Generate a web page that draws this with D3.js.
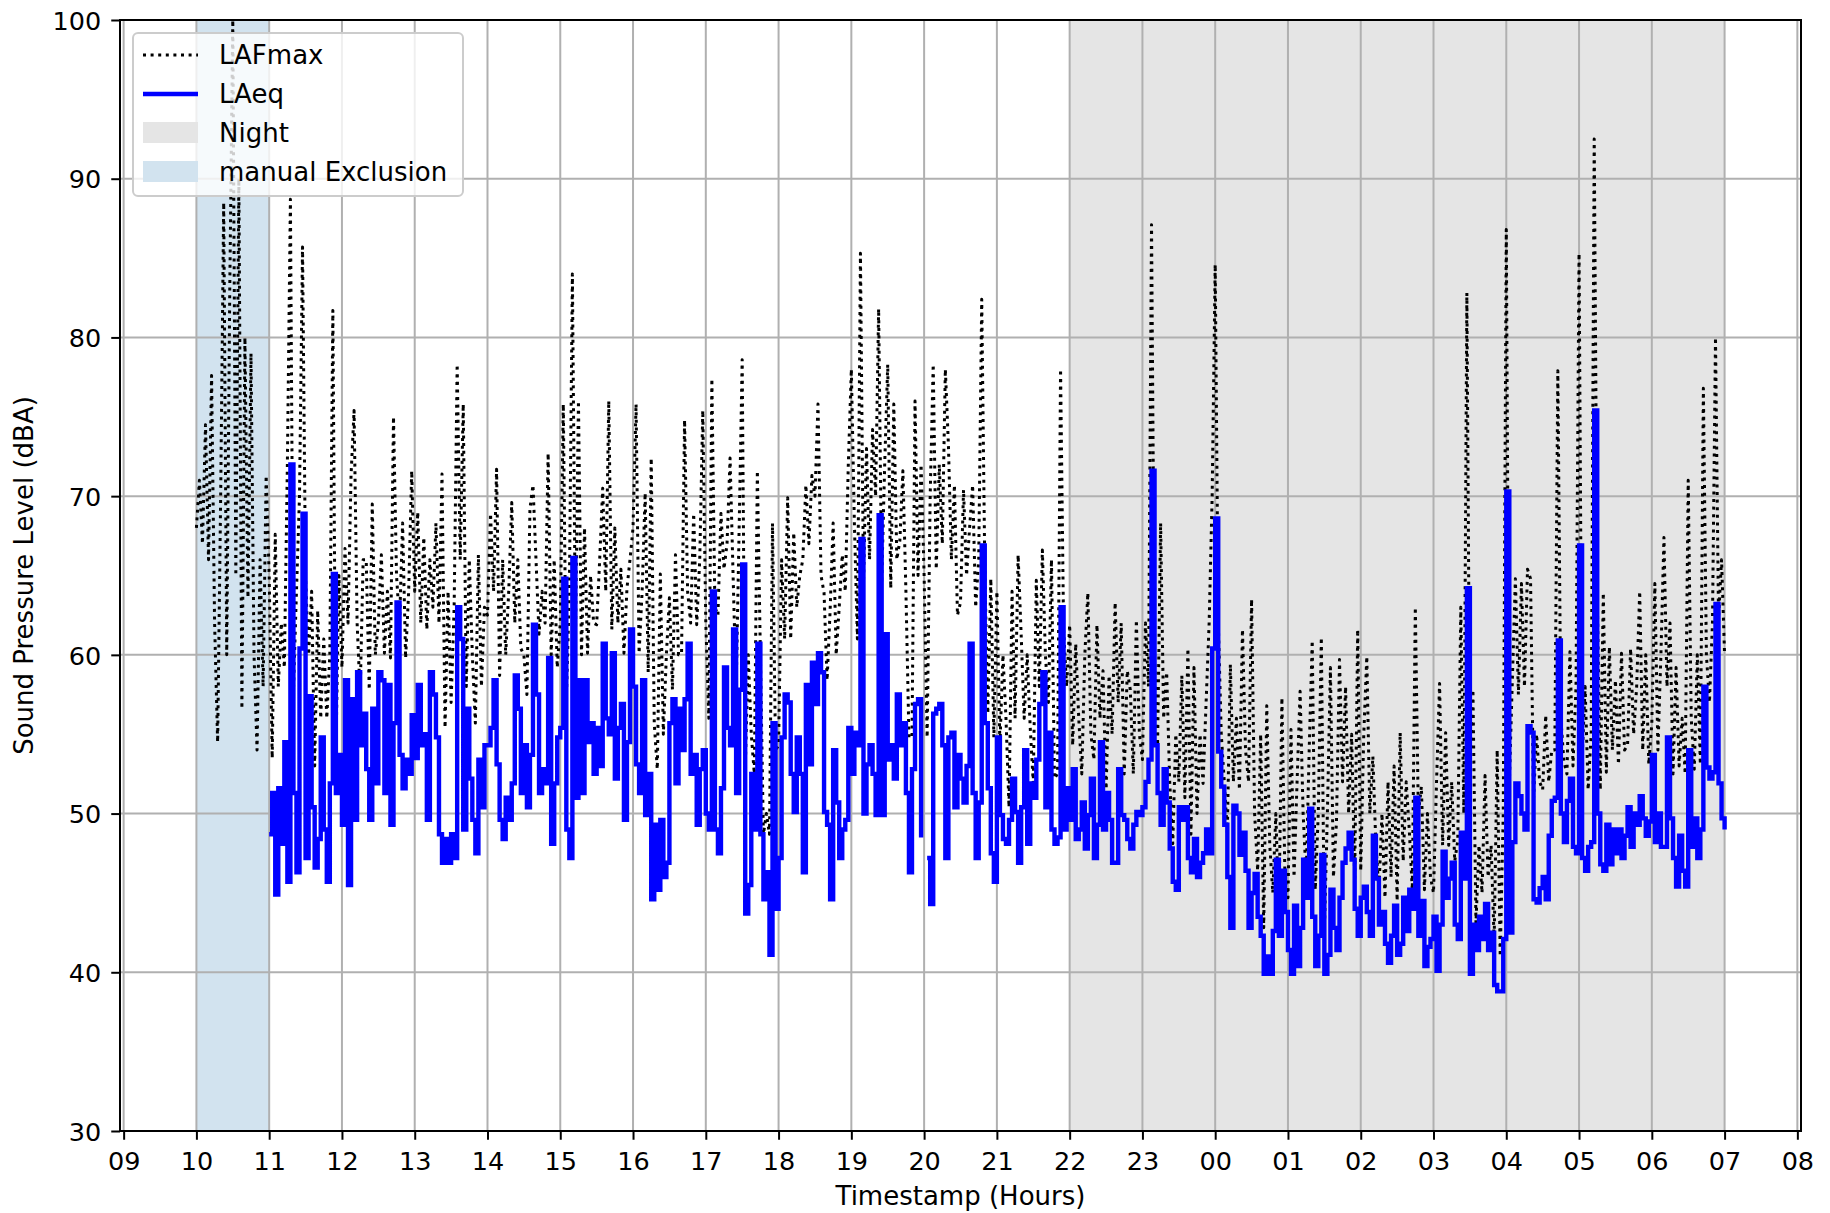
<!DOCTYPE html>
<html>
<head>
<meta charset="utf-8">
<script src="https://cdn.jsdelivr.net/npm/d3@7"></script>
<style>
  html, body { margin: 0; padding: 0; background: #ffffff; }
  text { font-family: "DejaVu Sans", sans-serif; fill: #000; }
</style>
</head>
<body>
<svg id="chart" width="1830" height="1213"></svg>
<script>
// ---------------- DATA ----------------
const xDomain = ["2024-01-01 08:57", "2024-01-02 08:03"];
const yTicks = [30, 40, 50, 60, 70, 80, 90, 100];
const nightSpan = ["2024-01-01 22:00", "2024-01-02 07:00"];
const exclusionSpan = ["2024-01-01 10:00", "2024-01-01 11:00"];
const stepMinutes = 2.5;
const lafmaxStart = "2024-01-01 10:00";
const laeqStart = "2024-01-01 11:00";
const legendLabels = ["LAFmax", "LAeq", "Night", "manual Exclusion"];

// LAFmax (dBA), one row per hour, 2.5-minute samples
const lafmax = [
  68, 71, 67, 74.5, 66, 77.6, 62, 54.5, 70, 88.5, 60, 83, 100, 65, 90, 56.6, 80, 63.6, 79, 60, 54, 66, 58, 71.3,
  65, 53.5, 67.6, 58, 62, 59.2, 72, 88.7, 57.8, 64, 70, 85.7, 64.8, 60, 64, 53, 62.8, 56, 61, 56, 60, 81.7, 53.7, 65,
  59.2, 66.7, 62, 71.3, 75.4, 62, 57.5, 66, 66, 57.8, 69.5, 60, 62, 66.3, 60.1, 64, 59.8, 75, 65, 62, 68.3, 59.8, 64, 71.6,
  64, 69, 62, 67.4, 61.6, 66, 63, 68.3, 62, 71.4, 55.4, 64, 57, 63, 78.3, 66, 75.8, 58, 66, 60, 55.7, 66.3, 58, 63,
  62.5, 68.9, 64, 71.7, 58.7, 66, 60, 64, 69.6, 62, 66, 60.4, 60, 57.5, 69.2, 70.7, 66, 61.3, 64, 62, 72.7, 60, 66, 59.2,
  62, 75.8, 57.2, 64, 84, 61, 76, 60, 68, 60.1, 65, 62, 61.9, 66, 70.5, 64, 76, 61.6, 68, 62, 65.4, 60.1, 64.2, 66,
  68, 75.8, 60.1, 64, 70.2, 58.9, 72.4, 55.7, 52.8, 65.1, 55, 60, 63.6, 57.8, 66.3, 60, 60.1, 74.8, 64, 62, 68.9, 61.9, 66, 75.4,
  62, 56, 77.4, 63, 62.5, 68.9, 65.4, 67, 72.4, 65, 57.8, 68, 78.6, 52.8, 60, 55, 52.5, 71.6, 60, 48.7, 50, 48.7, 68.3, 54,
  54.3, 66, 61, 69.9, 61, 67.7, 63, 65, 66, 70.7, 67, 71.3, 70, 75.8, 65, 63.9, 58.4, 62.8, 68.3, 60, 63, 66.3, 64, 72,
  78, 68.3, 61, 85.3, 64.5, 73, 66, 74.2, 70, 81.8, 64.5, 72, 78.3, 64.2, 75.8, 66, 67.2, 71.6, 64, 54.8, 54.8, 76, 65, 72,
  65, 54.8, 70, 78.3, 65.4, 72, 67, 78, 73.3, 66, 70.7, 62.5, 63.3, 70.4, 65, 68, 70.7, 63, 66, 82.4, 65.7, 56.3, 64.8, 54.8,
  64, 54.3, 60, 56, 50.4, 64, 56, 66.3, 61.3, 56, 60, 55.4, 51.9, 64.7, 58, 66.6, 60, 57, 66, 52.2, 52.5, 78, 61.6, 58,
  61.9, 54.3, 60.7, 56, 52.5, 60, 63.9, 55, 53.4, 61.9, 56, 59, 51.3, 58.7, 55, 63.3, 57, 62, 52.5, 59, 57.8, 52.5, 62.2, 55,
  53.4, 62, 58, 87.1, 60, 54.3, 68.3, 56, 58.9, 52, 48.1, 55, 52, 58.7, 51, 60.4, 48.7, 59.2, 50, 55, 51.9, 57, 62, 70,
  84.6, 62.1, 55, 52, 48.8, 59.4, 52, 56, 51.5, 61.6, 54, 52, 63.5, 50, 46.4, 55, 42.8, 56.8, 48, 45, 50, 43.5, 57.3, 46,
  44.7, 55.3, 46, 52, 57.7, 50, 46, 54, 60.9, 45.2, 50, 61.1, 42.6, 50, 59.2, 46, 49.5, 59.7, 52, 58, 50, 55, 45.9, 61.6,
  46.4, 55, 59.9, 50, 53.6, 48, 45.2, 50, 44.7, 52, 46, 53, 44.5, 55.1, 47, 52, 49, 45.2, 63, 50, 51.7, 45.2, 50, 46,
  45, 52, 58.2, 48, 55.1, 48, 52, 47, 48.3, 63, 50, 82.8, 52.9, 57.8, 43.1, 48, 45, 52.4, 46, 48, 42, 54, 41, 50,
  86.8, 51.9, 58.4, 64.8, 57.5, 64.5, 58, 65.4, 64.8, 51, 55, 52, 51.5, 56.2, 52, 54, 54, 77.9, 56, 53.3, 52.5, 60.2, 53, 58,
  85.3, 53.4, 58, 51.5, 55, 92.5, 63.8, 51.5, 63.9, 52.6, 60.5, 54, 58.4, 53.1, 60.1, 54, 54.3, 60.4, 55, 58, 64, 54, 60, 53.1,
  55.7, 64.5, 54, 60, 67.4, 58, 62, 52.5, 59.2, 53, 56, 52.5, 71, 56, 52.8, 60, 53.1, 76.8, 60, 57, 62, 80, 62.3, 66,
  60
];

// LAeq (dBA), one row per hour, 2.5-minute samples (null = missing)
const laeq = [
  48.7, 51.3, 44.9, 51.6, 48.1, 54.5, 45.7, 72.0, 51.3, 46.3, 60.4, 68.9, 47.2, 57.4, 50.4, 46.6, 48.4, 54.8, 49.0, 45.7, 51.9, 65.1, 51.3, 53.7,
  49.3, 58.4, 45.5, 57.2, 49.6, 58.9, 54.3, 56.3, 52.8, 49.6, 56.6, 51.9, 58.9, 58.4, 51.3, 58.1, 49.3, 55.7, 63.3, 53.7, 51.6, 53.4, 52.5, 56.2,
  53.5, 58.1, 54.3, 55.0, 49.6, 58.9, 57.5, 54.8, 48.7, 46.9, 48.4, 46.9, 48.7, 47.2, 63.0, 61.0, 49.0, 56.6, 52.2, 49.6, 47.5, 53.4, 50.4, 54.3,
  54.3, 55.4, 58.4, 53.1, 49.6, 48.4, 51.0, 49.6, 51.9, 58.7, 56.6, 51.3, 54.3, 50.4, 53.7, 61.9, 57.5, 51.3, 52.8, 51.9, 59.8, 48.1, 51.9, 54.8,
  55.4, 64.8, 49.0, 47.2, 66.1, 51.0, 58.4, 51.3, 58.4, 54.5, 55.7, 52.5, 55.4, 53.0, 60.7, 56.0, 55.0, 60.1, 52.2, 55.4, 56.9, 49.6, 54.5, 61.6,
  58.0, 53.1, 51.3, 58.4, 49.9, 52.5, 44.6, 49.3, 45.2, 49.6, 46.0, 46.9, 55.7, 57.2, 51.9, 56.6, 54.0, 57.2, 60.7, 52.5, 53.7, 49.3, 52.8, 54.0,
  50.0, 49.0, 64.0, 49.0, 47.5, 51.6, 59.2, 55.4, 54.3, 61.6, 51.3, 57.8, 65.7, 43.7, 45.5, 52.5, 49.0, 60.7, 48.7, 44.6, 46.3, 41.1, 55.7, 44.0,
  47.2, 54.8, 57.5, 57.0, 52.5, 50.1, 54.8, 52.5, 46.3, 58.1, 53.1, 59.5, 56.9, 60.1, 58.9, 50.1, 49.3, 44.6, 54.0, 50.7, 47.2, 49.0, 49.6, 55.4,
  52.5, 55.1, 54.3, 67.3, 50.0, 53.1, 54.3, 52.5, 49.9, 68.8, 49.9, 61.3, 53.4, 54.3, 52.2, 57.5, 54.3, 55.7, 51.3, 46.3, 52.8, 56.9, 57.2, 48.5,
  null, 47.2, 44.3, 56.3, 56.6, 56.9, 54.3, 47.2, 54.8, 55.1, 50.4, 53.7, 52.2, 50.7, 53.0, 60.7, 51.3, 47.2, 50.7, 66.9, 55.7, 51.6, 47.5, 45.7,
  54.8, 49.9, 48.4, 48.1, 49.6, 52.2, 50.1, 46.9, 50.4, 54.0, 48.1, 51.9, 51.0, 53.4, 56.9, 58.9, 50.4, 55.1, 49.0, 48.1, 48.5, 63.0, 49.0, 51.6,
  49.6, 52.8, 48.4, 49.0, 50.7, 47.8, 49.9, 52.2, 47.2, 49.3, 54.5, 49.0, 51.3, 49.6, 46.9, 46.9, 52.8, 49.9, 49.6, 48.4, 47.8, 49.3, 50.1, 49.9,
  50.4, 52.0, 53.4, 71.6, 54.3, 51.3, 49.3, 52.8, 50.7, 47.8, 45.7, 45.2, 50.4, 49.6, 50.4, 47.2, 46.3, 48.4, 46.0, 46.9, 47.5, 49.0, 47.5, 60.4,
  68.6, 53.9, 51.7, 49.3, 46.0, 42.8, 50.5, 50.0, 47.4, 48.8, 46.4, 42.8, 45.0, 46.2, 43.5, 42.3, 39.9, 41.0, 39.9, 42.6, 47.1, 42.3, 46.4, 43.8,
  41.4, 39.9, 44.2, 40.4, 42.8, 47.1, 44.7, 50.3, 43.5, 40.4, 42.3, 47.4, 39.9, 41.1, 45.2, 42.8, 41.4, 44.7, 46.9, 47.8, 48.8, 47.1, 44.0, 42.3,
  44.7, 45.4, 43.8, 42.3, 48.6, 45.9, 43.0, 43.8, 41.8, 40.6, 42.3, 44.2, 41.1, 41.8, 44.7, 42.6, 45.2, 44.0, 51.0, 42.3, 44.5, 40.4, 41.6, 42.1,
  43.5, 40.1, 43.0, 47.6, 44.7, 45.9, 46.9, 43.0, 42.1, 48.8, 45.9, 64.2, 39.9, 43.0, 41.4, 43.5, 42.1, 44.3, 41.4, 42.5, 39.2, 38.8, 38.8, 42.1,
  70.3, 42.5, 48.2, 51.9, 51.1, 50.0, 49.0, 55.5, 55.1, 44.6, 44.4, 45.3, 46.0, 44.6, 48.6, 50.8, 51.0, 60.9, 50.0, 48.2, 50.8, 52.2, 47.9, 47.5,
  66.9, 47.2, 46.4, 47.9, 48.2, 75.4, 50.0, 46.8, 46.4, 49.3, 46.8, 49.0, 47.5, 49.0, 47.2, 48.6, 50.4, 47.9, 50.0, 49.3, 51.1, 49.7, 48.6, 49.5,
  53.7, 48.2, 50.0, 47.9, 47.9, 54.8, 49.7, 47.2, 45.4, 48.6, 46.4, 45.4, 54.0, 47.9, 49.7, 47.2, 49.0, 58.0, 52.9, 52.2, 52.6, 63.2, 51.9, 49.7,
  49.0
];

// ---------------- STYLE / LAYOUT ----------------
const W = 1830, H = 1213;
const M = { left: 120, right: 1801, top: 20, bottom: 1131 };
const colors = {
  lafmax: "#000000",
  laeq: "#0000ff",
  night: "#e5e5e5",
  exclusion: "#d2e3ef",
  grid: "#b0b0b0"
};
const tickFont = 25.5, labelFont = 26;
const dotW = 3.0, dotDash = "3,4.6", eqW = 4.4;

const parse = d3.timeParse("%Y-%m-%d %H:%M");
const stepMs = stepMinutes * 60000;
const toSeries = (arr, start) => {
  const t0 = parse(start).getTime();
  return arr.map((v, i) => ({ t: new Date(t0 + i * stepMs), v }));
};
const lafmaxSeries = toSeries(lafmax, lafmaxStart);
const laeqSeries = toSeries(laeq, laeqStart);

const x = d3.scaleTime().domain(xDomain.map(parse)).range([M.left, M.right]);
const y = d3.scaleLinear().domain([30, 100]).range([M.bottom, M.top]);

const svg = d3.select("#chart");
svg.append("rect").attr("width", W).attr("height", H).attr("fill", "#fff");

svg.append("defs").append("clipPath").attr("id", "plotclip")
  .append("rect")
  .attr("x", M.left).attr("y", M.top - 2)
  .attr("width", M.right - M.left).attr("height", M.bottom - M.top + 4);

// spans
const spans = [
  { range: exclusionSpan, color: colors.exclusion },
  { range: nightSpan, color: colors.night }
];
svg.append("g").selectAll("rect").data(spans).join("rect")
  .attr("x", d => x(parse(d.range[0])))
  .attr("width", d => x(parse(d.range[1])) - x(parse(d.range[0])))
  .attr("y", M.top).attr("height", M.bottom - M.top)
  .attr("fill", d => d.color);

// grid
const xTicks = x.ticks(d3.timeHour.every(1));
const grid = svg.append("g").attr("stroke", colors.grid).attr("stroke-width", 2);
grid.selectAll("line.gx").data(xTicks).join("line").attr("class", "gx")
  .attr("x1", d => x(d)).attr("x2", d => x(d))
  .attr("y1", M.top).attr("y2", M.bottom);
grid.selectAll("line.gy").data(yTicks).join("line").attr("class", "gy")
  .attr("x1", M.left).attr("x2", M.right)
  .attr("y1", d => y(d)).attr("y2", d => y(d));

// lines
const plot = svg.append("g").attr("clip-path", "url(#plotclip)");
const lineMax = d3.line().x(d => x(d.t)).y(d => y(d.v)).defined(d => d.v != null);
plot.append("path").datum(lafmaxSeries)
  .attr("d", lineMax)
  .attr("fill", "none")
  .attr("stroke", colors.lafmax)
  .attr("stroke-width", dotW)
  .attr("stroke-dasharray", dotDash)
  .attr("stroke-linejoin", "round");

const lineEq = d3.line().x(d => x(d.t)).y(d => y(d.v)).defined(d => d.v != null).curve(d3.curveStepAfter);
plot.append("path").datum(laeqSeries)
  .attr("d", lineEq)
  .attr("fill", "none")
  .attr("stroke", colors.laeq)
  .attr("stroke-width", eqW)
  .attr("stroke-linejoin", "miter");

// axes
const xAxis = d3.axisBottom(x)
  .ticks(d3.timeHour.every(1))
  .tickFormat(d3.timeFormat("%H"))
  .tickSize(8.75).tickSizeOuter(0).tickPadding(12);
const gx = svg.append("g").attr("transform", `translate(0,${M.bottom})`).call(xAxis);
gx.select(".domain").remove();
gx.selectAll(".tick line").attr("stroke", "#000").attr("stroke-width", 2);
gx.selectAll(".tick text").attr("font-size", tickFont).attr("font-family", "DejaVu Sans").attr("fill", "#000");

const yAxis = d3.axisLeft(y).tickValues(yTicks).tickFormat(d3.format("d"))
  .tickSize(8.75).tickSizeOuter(0).tickPadding(10);
const gy = svg.append("g").attr("transform", `translate(${M.left},0)`).call(yAxis);
gy.select(".domain").remove();
gy.selectAll(".tick line").attr("stroke", "#000").attr("stroke-width", 2);
gy.selectAll(".tick text").attr("font-size", tickFont).attr("font-family", "DejaVu Sans")
  .attr("fill", "#000").attr("dy", "0.36em");

// spines
svg.append("rect")
  .attr("x", M.left).attr("y", M.top)
  .attr("width", M.right - M.left).attr("height", M.bottom - M.top)
  .attr("fill", "none").attr("stroke", "#000").attr("stroke-width", 2);

// axis labels
svg.append("text")
  .attr("x", (M.left + M.right) / 2).attr("y", 1205)
  .attr("text-anchor", "middle").attr("font-size", labelFont)
  .text("Timestamp (Hours)");
svg.append("text")
  .attr("transform", `translate(33,${(M.top + M.bottom) / 2}) rotate(-90)`)
  .attr("text-anchor", "middle").attr("font-size", labelFont)
  .text("Sound Pressure Level (dBA)");

// legend
const lg = svg.append("g");
lg.append("rect")
  .attr("x", 133).attr("y", 33).attr("width", 330).attr("height", 163)
  .attr("rx", 5).attr("ry", 5)
  .attr("fill", "#fff").attr("fill-opacity", 0.8)
  .attr("stroke", "#cccccc").attr("stroke-width", 2);
const rowY = [55, 94, 132.5, 171.5];
lg.append("line").attr("x1", 143).attr("x2", 198).attr("y1", rowY[0]).attr("y2", rowY[0])
  .attr("stroke", colors.lafmax).attr("stroke-width", dotW).attr("stroke-dasharray", dotDash);
lg.append("line").attr("x1", 143).attr("x2", 198).attr("y1", rowY[1]).attr("y2", rowY[1])
  .attr("stroke", colors.laeq).attr("stroke-width", eqW);
lg.append("rect").attr("x", 143).attr("y", rowY[2] - 10.5).attr("width", 55).attr("height", 21)
  .attr("fill", colors.night);
lg.append("rect").attr("x", 143).attr("y", rowY[3] - 10.5).attr("width", 55).attr("height", 21)
  .attr("fill", colors.exclusion);
lg.selectAll("text.lt").data(legendLabels).join("text").attr("class", "lt")
  .attr("x", 219).attr("y", (d, i) => rowY[i] + 9.3)
  .attr("font-size", labelFont)
  .text(d => d);
</script>
</body>
</html>
